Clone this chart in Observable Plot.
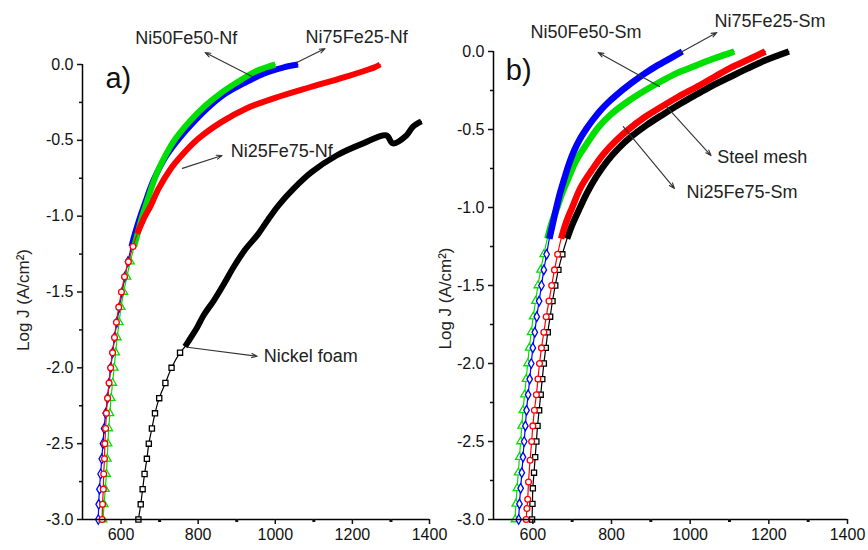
<!DOCTYPE html>
<html><head><meta charset="utf-8">
<script src="https://cdn.jsdelivr.net/npm/d3@7"></script>
<script src="https://cdn.jsdelivr.net/npm/@observablehq/plot@0.6"></script>
<style>
body{margin:0;background:#fff;}
#wrap{position:relative;width:868px;height:550px;overflow:hidden;font-family:"Liberation Sans",Arial,sans-serif;}
#wrap svg{position:absolute;overflow:visible;}
</style></head><body><div id="wrap"></div>
<script>
// ---- Panel a) : nickel foam substrate (E vs log J) ----
const nfNi25Fe75E = [551,552,554,555,557,558,560,562,565,569,573,578,583,588,594,601,609,619,631,642,662,677,697,728,757,800,860,925,1000,1090,1180,1258,1272];
const nfNi25Fe75J = [-3.0,-2.9,-2.8,-2.7,-2.6,-2.5,-2.4,-2.3,-2.2,-2.1,-2.0,-1.9,-1.8,-1.7,-1.6,-1.5,-1.4,-1.3,-1.2,-1.115,-1.0,-0.93,-0.82,-0.69,-0.6,-0.49,-0.38,-0.29,-0.22,-0.15,-0.083,-0.018,0.0];
const nfNi50Fe50E = [553,556,559,562,564,566,568,571,574,578,582,586,590,595,600,607,615,624,634,643,655,664,678,694,715,741,776,819,858,902,945,975,1000];
const nfNi50Fe50J = [-3.0,-2.9,-2.8,-2.7,-2.6,-2.5,-2.4,-2.3,-2.2,-2.1,-2.0,-1.9,-1.8,-1.7,-1.6,-1.5,-1.4,-1.3,-1.2,-1.115,-1.0,-0.93,-0.82,-0.71,-0.6,-0.49,-0.38,-0.27,-0.19,-0.116,-0.05,-0.02,0.0];
const nfNi75Fe25E = [541,542,544,547,550,553,556,560,565,569,573,578,583,589,596,603,610,618,627,636,650,664,678,694,718,750,788,832,872,918,970,1020,1059];
const nfNi75Fe25J = [-3.0,-2.9,-2.8,-2.7,-2.6,-2.5,-2.4,-2.3,-2.2,-2.1,-2.0,-1.9,-1.8,-1.7,-1.6,-1.5,-1.4,-1.3,-1.2,-1.115,-1.0,-0.9,-0.8,-0.71,-0.6,-0.49,-0.38,-0.27,-0.19,-0.125,-0.06,-0.02,0.0];
const nfFoamE = [645,651,656,661,667,672,680,688,699,715,731,753,766,776,798,815,841,866,892,922,955,982,1008,1047,1094,1159,1228,1288,1305,1340,1357,1379];
const nfFoamJ = [-3.0,-2.9,-2.8,-2.7,-2.6,-2.5,-2.4,-2.3,-2.2,-2.1,-2.0,-1.9,-1.86,-1.82,-1.73,-1.65,-1.555,-1.45,-1.335,-1.22,-1.12,-1.02,-0.93,-0.82,-0.71,-0.6,-0.52,-0.468,-0.52,-0.468,-0.41,-0.375];

// ---- Panel b) : steel mesh substrate ----
const smNi75Fe25E = [564,566,569,572,575,578,581,584,588,592,596,600,605,610,616,622,628,635,642,651,660,670,680,692,705,720,736,752,771,790,812,852,885,910,945,980];
const smNi75Fe25J = [-3.0,-2.9,-2.8,-2.7,-2.6,-2.5,-2.4,-2.3,-2.2,-2.1,-2.0,-1.9,-1.8,-1.7,-1.6,-1.5,-1.4,-1.3,-1.2,-1.1,-1.0,-0.9,-0.816,-0.72,-0.635,-0.56,-0.496,-0.44,-0.38,-0.33,-0.28,-0.2,-0.14,-0.1,-0.05,0.0];
const smNi50Fe50E = [555,557,560,563,566,569,572,575,579,583,587,591,596,601,607,613,620,628,637,648,662,676,690,710,735,767,800,845,885,930,965,1005,1055,1095,1112];
const smNi50Fe50J = [-3.0,-2.9,-2.8,-2.7,-2.6,-2.5,-2.4,-2.3,-2.2,-2.1,-2.0,-1.9,-1.8,-1.7,-1.6,-1.5,-1.4,-1.3,-1.2,-1.1,-1.0,-0.9,-0.816,-0.7,-0.6,-0.485,-0.4,-0.314,-0.25,-0.186,-0.14,-0.1,-0.05,-0.015,0.0];
const smNi25Fe75E = [583,585,587,589,593,597,600,604,609,613,617,622,628,634,641,648,655,663,672,684,700,722,750,780,812,845,885,925,970,1015,1060,1106,1150,1191];
const smNi25Fe75J = [-3.0,-2.93,-2.87,-2.76,-2.62,-2.5,-2.4,-2.3,-2.2,-2.1,-2.0,-1.9,-1.8,-1.7,-1.6,-1.5,-1.4,-1.3,-1.2,-1.1,-1.0,-0.87,-0.76,-0.656,-0.57,-0.496,-0.42,-0.357,-0.29,-0.229,-0.165,-0.1,-0.05,0.0];
const smSteelE = [598,599,600,603,606,609,612,616,620,624,628,633,638,644,650,657,665,675,687,702,720,737,762,790,818,848,890,933,978,1020,1063,1100,1145,1190,1251];
const smSteelJ = [-3.0,-2.9,-2.8,-2.7,-2.6,-2.5,-2.4,-2.3,-2.2,-2.1,-2.0,-1.9,-1.8,-1.7,-1.6,-1.5,-1.4,-1.3,-1.2,-1.1,-1.0,-0.91,-0.8,-0.7,-0.62,-0.55,-0.47,-0.4,-0.33,-0.27,-0.21,-0.165,-0.11,-0.058,0.0];

// ---- ticks ----
const xTicks = [600,800,1000,1200,1400];
const xMinor = [700,900,1100,1300];
const yTicks = [0,-0.5,-1.0,-1.5,-2.0,-2.5,-3.0];
const yMinor = [-0.25,-0.75,-1.25,-1.75,-2.25,-2.75];

// ---- annotations (label, text position, arrow tail on curve, arrow head) ----
const annA = [
  {t:"Ni50Fe50-Nf", x:769, y:0.171, x1:940, y1:-0.079, x2:818, y2:0.079},
  {t:"Ni75Fe25-Nf", x:1211, y:0.178, x1:1056, y1:0.013, x2:1129, y2:0.105},
  {t:"Ni25Fe75-Nf", x:1017, y:-0.573, x1:759, y1:-0.685, x2:862, y2:-0.6},
  {t:"Nickel foam", x:1092, y:-1.924, x1:772, y1:-1.864, x2:953, y2:-1.924}
];
const annB = [
  {t:"Ni50Fe50-Sm", x:735, y:0.122, x1:922, y1:-0.224, x2:766, y2:-0.006},
  {t:"Ni75Fe25-Sm", x:1203, y:0.192, x1:971, y1:-0.013, x2:1068, y2:0.122},
  {t:"Steel mesh", x:1183, y:-0.679, x1:940, y1:-0.353, x2:1053, y2:-0.667},
  {t:"Ni25Fe75-Sm", x:1132, y:-0.904, x1:830, y1:-0.481, x2:960, y2:-0.878}
];

const zip = (E, J) => E.map((e, i) => ({E: e, J: J[i]}));
const seriesA = [
  {d: zip(nfFoamE, nfFoamJ), c:"#000000", s:"square", band:-1.86},
  {d: zip(nfNi75Fe25E, nfNi75Fe25J), c:"#0000ff", s:"diamond", band:-1.2},
  {d: zip(nfNi50Fe50E, nfNi50Fe50J), c:"#00e000", s:"triangle", band:-1.2},
  {d: zip(nfNi25Fe75E, nfNi25Fe75J), c:"#ff0000", s:"circle", band:-1.115}
];
const seriesB = [
  {d: zip(smSteelE, smSteelJ), c:"#000000", s:"square", band:-1.2},
  {d: zip(smNi25Fe75E, smNi25Fe75J), c:"#ff0000", s:"circle", band:-1.2},
  {d: zip(smNi50Fe50E, smNi50Fe50J), c:"#00e000", s:"triangle", band:-1.2},
  {d: zip(smNi75Fe25E, smNi75Fe25J), c:"#0000ff", s:"diamond", band:-1.2}
];

const font = '"Liberation Sans", Arial, sans-serif';

function panel({series, ann, tag, tagX, tagY, width, mL, mR, mT, labelDx, labelDy, band}) {
  const marks = [];
  for (const s of series) {
    marks.push(Plot.line(s.d, {x:"E", y:"J", stroke:s.c, strokeWidth:1.2, curve:"catmull-rom"}));
    marks.push(Plot.line(s.d.filter(p => p.J >= s.band), {x:"E", y:"J", stroke:s.c, strokeWidth:band, strokeLinecap:"butt", curve:"catmull-rom"}));
    marks.push(Plot.dot(s.d.filter(p => p.J < s.band), {x:"E", y:"J", symbol:s.s, r:2.9, stroke:s.c, fill:"white", strokeWidth:1.3}));
  }
  marks.push(
    Plot.ruleX([500], {stroke:"#000", strokeWidth:1.5}),
    Plot.ruleY([-3], {stroke:"#000", strokeWidth:1.5}),
    Plot.axisX({ticks:xTicks, tickSize:5, tickPadding:4, tickFormat:d => String(d), label:null, strokeWidth:1.5, fontSize:16}),
    Plot.axisX({ticks:xMinor, tickSize:3, text:null, label:null, strokeWidth:3}),
    Plot.axisY({ticks:yTicks, tickSize:5, tickPadding:4, tickFormat:d => d.toFixed(1).replace("\u2212","-"), label:null, strokeWidth:1.5, fontSize:16}),
    Plot.axisY({ticks:yMinor, tickSize:3, text:null, label:null, strokeWidth:1.5}),
    Plot.text(["Log J (A/cm\u00B2)"], {frameAnchor:"left", textAnchor:"middle", rotate:-90, dx:labelDx, dy:labelDy, fontSize:17, fill:"#222"}),
    Plot.text([tag], {x:tagX, y:tagY, text:d => d, fontSize:29, fill:"#111"}),
    Plot.arrow(ann, {x1:"x1", y1:"y1", x2:"x2", y2:"y2", stroke:"#333", strokeWidth:1.1, headLength:8, headAngle:40}),
    Plot.text(ann, {x:"x", y:"y", text:"t", fontSize:18, fill:"#222"})
  );
  return Plot.plot({
    width, height:550,
    marginLeft:mL, marginRight:mR, marginTop:mT, marginBottom:31,
    x:{domain:[500,1400]},
    y:{domain:[-3,0]},
    style:{fontFamily:font, fontSize:"16px", color:"#111", background:"transparent", overflow:"visible"},
    marks
  });
}

const wrap = document.getElementById("wrap");
const a = panel({series:seriesA, ann:annA, tag:"a)", tagX:593, tagY:-0.092, width:440, mL:82, mR:11, mT:64, labelDx:-58.5, labelDy:8, band:6});
a.style.left = "0px"; a.style.top = "0px";
const b = panel({series:seriesB, ann:annB, tag:"b)", tagX:564, tagY:-0.122, width:438, mL:63, mR:21, mT:51, labelDx:-48, labelDy:13, band:6.5});
b.style.left = "430px"; b.style.top = "0px";
wrap.appendChild(a);
wrap.appendChild(b);
</script>
</body></html>
